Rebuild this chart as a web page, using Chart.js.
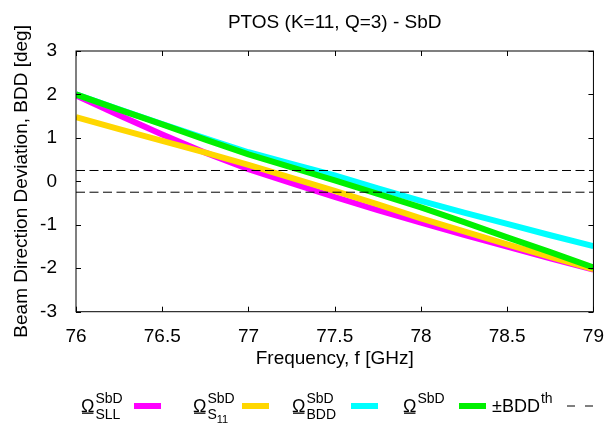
<!DOCTYPE html>
<html>
<head>
<meta charset="utf-8">
<script src="https://cdn.jsdelivr.net/npm/chart.js@4.4.1/dist/chart.umd.min.js"></script>
<style>
html, body { margin: 0; padding: 0; background: #fff; }
#wrap { width: 610px; height: 426px; }
</style>
</head>
<body>
<div id="wrap"><canvas id="grafic" width="610" height="426"></canvas></div>
<script>
// dades llegides del grafic
const freqs = [76, 76.25, 76.5, 76.75, 77, 77.25, 77.5, 77.75, 78, 78.25, 78.5, 78.75, 79];
const omegaSll = [1.98, 1.52, 1.08, 0.66, 0.28, -0.04, -0.36, -0.66, -0.95, -1.23, -1.50, -1.77, -2.03];
const omegaS11 = [1.48, 1.20, 0.93, 0.66, 0.38, 0.08, -0.22, -0.53, -0.85, -1.15, -1.45, -1.74, -2.02];
const omegaBdd = [2.00, 1.66, 1.32, 0.99, 0.67, 0.40, 0.14, -0.16, -0.45, -0.72, -0.98, -1.24, -1.49];
const omegaTot = [2.00, 1.65, 1.31, 0.96, 0.62, 0.32, 0.02, -0.29, -0.60, -0.94, -1.29, -1.63, -1.98];
const bddTh = 0.25;

const xTickVals = [76, 76.5, 77, 77.5, 78, 78.5, 79];
const yTickVals = [-3, -2, -1, 0, 1, 2, 3];

const titol = 'PTOS (K=11, Q=3) - SbD';
const xTitol = 'Frequency, f [GHz]';
const yTitol = 'Beam Direction Deviation, BDD [deg]';

const legendLabels = [
    { base: 'Ω', sup: 'SbD', sub: 'SLL', ratlla: true },
    { base: 'Ω', sup: 'SbD', sub: 'S', subsub: '11', ratlla: true },
    { base: 'Ω', sup: 'SbD', sub: 'BDD', ratlla: true },
    { base: 'Ω', sup: 'SbD', ratlla: true },
    { base: '±BDD', sup: 'th' }
];

const FONT = '"Liberation Sans", Arial, Helvetica, sans-serif';
Chart.defaults.font.family = FONT;
Chart.defaults.color = '#000';

const punts = ys => freqs.map((f, i) => ({ x: f, y: ys[i] }));
const llindar = v => [{ x: freqs[0], y: v }, { x: freqs[freqs.length - 1], y: v }];

function serie(data, color, order) {
    return {
        data: punts(data),
        borderColor: color,
        backgroundColor: color,
        borderWidth: 6,
        pointRadius: 0,
        tension: 0,
        fill: false,
        order: order
    };
}

const datasets = [
    serie(omegaSll, '#ff00ff', 5),
    serie(omegaS11, '#ffd700', 4),
    serie(omegaBdd, '#00ffff', 3),
    serie(omegaTot, '#00f000', 2),
    { data: llindar(bddTh), borderColor: '#000', borderWidth: 1, borderDash: [9, 4.5], pointRadius: 0, order: 1 },
    { data: llindar(-bddTh), borderColor: '#000', borderWidth: 1, borderDash: [9, 4.5], pointRadius: 0, order: 1 }
];

// marc i marques cap endins, estil gnuplot
const marcPlugin = {
    id: 'marc',
    afterDatasetsDraw(chart) {
        const { ctx, chartArea: a, scales: { x, y } } = chart;
        const tl = 5;
        ctx.save();
        ctx.strokeStyle = '#000';
        ctx.lineWidth = 1;
        ctx.strokeRect(a.left, a.top, a.right - a.left, a.bottom - a.top);
        ctx.beginPath();
        xTickVals.forEach(v => {
            const px = Math.round(x.getPixelForValue(v)) + 0.5;
            ctx.moveTo(px, a.bottom); ctx.lineTo(px, a.bottom - tl);
            ctx.moveTo(px, a.top); ctx.lineTo(px, a.top + tl);
        });
        yTickVals.forEach(v => {
            const py = Math.round(y.getPixelForValue(v)) + 0.5;
            ctx.moveTo(a.left, py); ctx.lineTo(a.left + tl, py);
            ctx.moveTo(a.right, py); ctx.lineTo(a.right - tl, py);
        });
        ctx.stroke();
        ctx.restore();
    }
};

// llegenda a baix amb subindexs i superindexs
const legendPos = [
    { x: 81, sx: 134, ds: 0 },
    { x: 193, sx: 242, ds: 1 },
    { x: 292, sx: 351, ds: 2 },
    { x: 403, sx: 459, ds: 3 },
    { x: 492, sx: 567, ds: 4 }
];

const llegendaPlugin = {
    id: 'llegenda',
    afterDraw(chart) {
        const ctx = chart.ctx;
        const baseY = 411.5, lineY = 406, len = 27;
        ctx.save();
        ctx.fillStyle = '#000';
        ctx.textBaseline = 'alphabetic';
        ctx.textAlign = 'left';
        legendLabels.forEach((lab, i) => {
            const p = legendPos[i];
            ctx.font = '18px ' + FONT;
            ctx.fillText(lab.base, p.x, baseY);
            const w = ctx.measureText(lab.base).width;
            if (lab.ratlla) ctx.fillRect(p.x + 1, baseY + 1, w - 2, 1.3);
            ctx.font = '14px ' + FONT;
            if (lab.sup) ctx.fillText(lab.sup, p.x + w + 1, baseY - 9);
            if (lab.sub) {
                ctx.fillText(lab.sub, p.x + w + 1, baseY + 7.5);
                if (lab.subsub) {
                    const ws = ctx.measureText(lab.sub).width;
                    ctx.font = '11px ' + FONT;
                    ctx.fillText(lab.subsub, p.x + w + 1 + ws, baseY + 11);
                }
            }
            const d = chart.data.datasets[p.ds];
            ctx.beginPath();
            ctx.strokeStyle = d.borderColor;
            ctx.lineWidth = d.borderDash ? 1 : d.borderWidth;
            ctx.setLineDash(d.borderDash ? [8, 10] : []);
            ctx.moveTo(p.sx, lineY);
            ctx.lineTo(p.sx + len, lineY);
            ctx.stroke();
        });
        ctx.restore();
    }
};

new Chart(document.getElementById('grafic').getContext('2d'), {
    type: 'line',
    data: { datasets: datasets },
    plugins: [marcPlugin, llegendaPlugin],
    options: {
        responsive: false,
        animation: false,
        layout: { padding: { left: 0, right: 13.5, top: 0, bottom: 52.2 } },
        plugins: {
            legend: { display: false },
            tooltip: { enabled: false },
            title: {
                display: true,
                text: titol,
                fullSize: false,
                color: '#000',
                font: { size: 19, weight: 'normal' },
                padding: { top: 11, bottom: 17.2 }
            }
        },
        scales: {
            x: {
                type: 'linear',
                min: 76,
                max: 79,
                afterBuildTicks: s => { s.ticks = xTickVals.map(v => ({ value: v })); },
                afterFit: s => { s.height = 62.1; },
                grid: { display: false },
                border: { display: false },
                ticks: { callback: v => String(v), font: { size: 19 }, color: '#000', padding: 6, maxRotation: 0, autoSkip: false },
                title: { display: true, text: xTitol, font: { size: 19 }, color: '#000', padding: { top: 4, bottom: 4 } }
            },
            y: {
                type: 'linear',
                min: -3,
                max: 3,
                afterBuildTicks: s => { s.ticks = yTickVals.map(v => ({ value: v })); },
                afterFit: s => { s.width = 76; },
                grid: { display: false },
                border: { display: false },
                ticks: { callback: v => String(v), font: { size: 19 }, color: '#000', padding: 11 },
                title: { display: true, text: yTitol, font: { size: 19 }, color: '#000', padding: { top: 10, bottom: 0 } }
            }
        }
    }
});
</script>
</body>
</html>
